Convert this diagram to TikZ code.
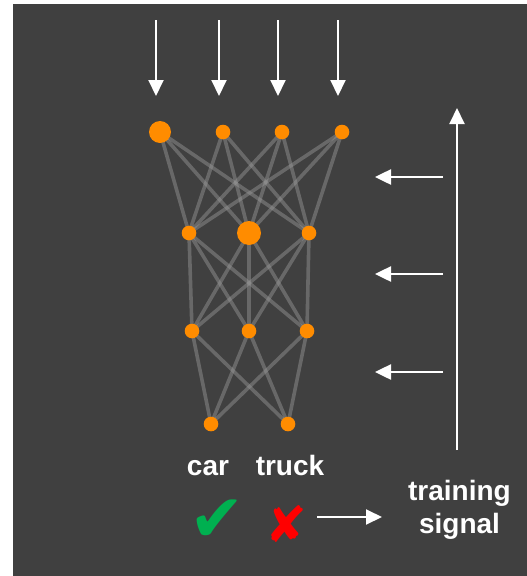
\documentclass[tikz,border=0pt]{standalone}
\usepackage{fontspec}
\setmainfont{Liberation Sans}
\newfontfamily\symfont{DejaVu Sans}
\usetikzlibrary{arrows.meta}
\definecolor{bgc}{HTML}{404040}
\definecolor{org}{HTML}{FF8C00}
\definecolor{okg}{HTML}{00B050}
\definecolor{nor}{HTML}{FF0000}
\pgfdeclarelayer{bg}
\pgfdeclarelayer{edges}
\pgfsetlayers{bg,edges,main}
\begin{document}
\begin{tikzpicture}[x=1pt,y=-1pt,
  neuron/.style={circle,fill=org,inner sep=0pt,minimum size=14.6pt},
  bigneuron/.style={neuron,minimum size=22pt},
  biggerneuron/.style={neuron,minimum size=24pt},
  conn/.style={draw=white!60!black,draw opacity=0.45,line width=3.6pt},
  warrow/.style={draw=white,line width=2pt,-{Triangle[width=15pt,length=16pt]}},
  lbl/.style={text=white,font=\fontsize{28}{30}\selectfont\bfseries,inner sep=0pt,anchor=base}
]
\useasboundingbox (0,0) rectangle (527,576);
\begin{pgfonlayer}{bg}
\fill[bgc] (13,4) rectangle (527,576);
\end{pgfonlayer}
% layer 1
\node[bigneuron] (a1) at (160,132) {};
\node[neuron] (a2) at (223,132) {};
\node[neuron] (a3) at (282,132) {};
\node[neuron] (a4) at (342,132) {};
% layer 2
\node[neuron] (b1) at (189,233) {};
\node[biggerneuron] (b2) at (249,233) {};
\node[neuron] (b3) at (309,233) {};
% layer 3
\node[neuron] (c1) at (192,331) {};
\node[neuron] (c2) at (249,331) {};
\node[neuron] (c3) at (307,331) {};
% layer 4
\node[neuron] (d1) at (211,424) {};
\node[neuron] (d2) at (288,424) {};
\begin{pgfonlayer}{edges}
\foreach \s in {a1,a2,a3,a4}{\foreach \t in {b1,b2,b3}{\draw[conn] (\s.center) -- (\t.center);}}
\foreach \s in {b1,b2,b3}{\foreach \t in {c1,c2,c3}{\draw[conn] (\s.center) -- (\t.center);}}
\foreach \s in {c1,c2,c3}{\foreach \t in {d1,d2}{\draw[conn] (\s.center) -- (\t.center);}}
\end{pgfonlayer}
% input arrows
\foreach \i/\x in {1/156,2/219,3/278,4/338}{
  \coordinate (in\i) at (\x,20);
  \coordinate (it\i) at (\x,96);
  \draw[warrow] (in\i) -- (it\i);
}
% backprop arrows
\foreach \i/\y in {1/177,2/274,3/372}{
  \coordinate (bs\i) at (443,\y);
  \coordinate (be\i) at (375,\y);
  \draw[warrow,line width=2.5pt] (bs\i) -- (be\i);
}
\coordinate (vs) at (457,450);
\coordinate (ve) at (457,108);
\draw[warrow] (vs) -- (ve);
% labels
\node[lbl] (car) at (208,475) {car};
\node[lbl] (truck) at (290,475) {truck};
\node[lbl,anchor=base] (tr) at (459.5,500) {training};
\node[lbl,anchor=base] (sig) at (459.5,533) {signal};
\node[text=okg,font=\symfont\fontsize{66}{68}\selectfont,inner sep=0pt] (chk) at (217,521) {✔};
\node[text=nor,font=\symfont\fontsize{50}{52}\selectfont,inner sep=0pt] (crs) at (286,524) {✘};
\coordinate (xa) at (317,517);
\coordinate (xb) at (382,517);
\draw[warrow] (xa) -- (xb);
\end{tikzpicture}
\end{document}
